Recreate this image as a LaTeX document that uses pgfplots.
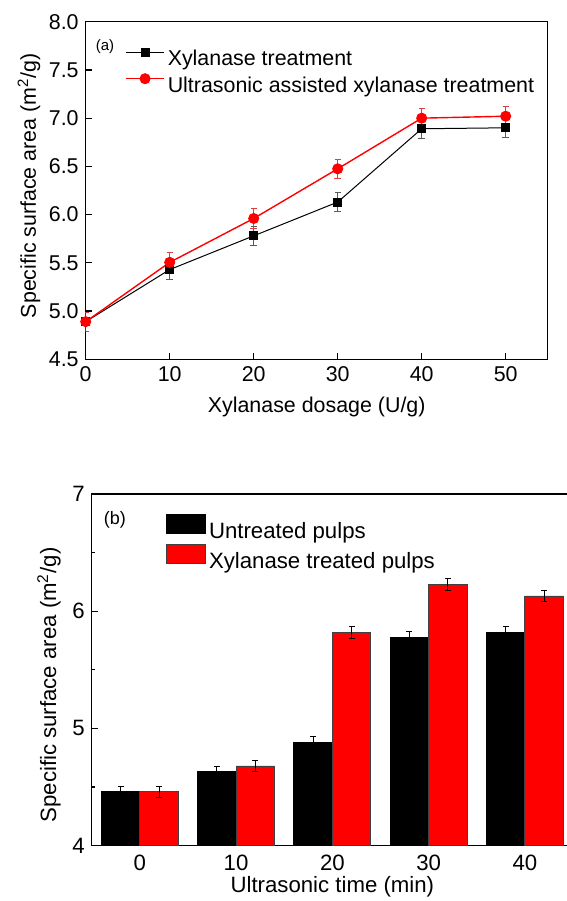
\documentclass[border=0pt]{standalone}
\usepackage{fontspec}
\setmainfont{Liberation Sans}
\usepackage{pgfplots}
\pgfplotsset{compat=1.18}

\definecolor{errgray}{RGB}{90,90,90}
\definecolor{errred}{RGB}{225,60,60}

\begin{document}
\begin{tikzpicture}
\path[use as bounding box] (0pt,0pt) rectangle (283.5pt,450.5pt);

% (a) line chart
\begin{axis}[
  at={(42.85pt,270.85pt)}, anchor=south west, scale only axis,
  width=231pt, height=168.8pt,
  xmin=0, xmax=55, ymin=4.5, ymax=8.0,
  xtick={0,10,20,30,40,50},
  ytick={4.5,5.0,5.5,6.0,6.5,7.0,7.5,8.0},
  xtick pos=bottom, ytick pos=left, tick align=inside,
  major tick length=3pt,
  axis line style={line width=0.7pt},
  major tick style={line width=0.6pt, black},
  /pgf/number format/assume math mode=true,
  yticklabel style={/pgf/number format/fixed, /pgf/number format/fixed zerofill, /pgf/number format/precision=1},
  tick label style={font=\fontsize{10.7}{12}\selectfont},
  label style={font=\fontsize{10.7}{12}\selectfont},
  xlabel={Xylanase dosage (U/g)},
  ylabel={Specific surface area (m\textsuperscript{2}/g)},
  xlabel style={at={(axis description cs:0.5,-0.14)}, anchor=center},
  ylabel style={at={(axis description cs:-0.1227,0.5145)}, anchor=center},
  legend style={at={(axis description cs:0.085,0.925)}, anchor=north west,
    draw=none, fill=none, inner sep=0pt, row sep=1pt,
    font=\fontsize{10.7}{12}\selectfont, nodes={inner sep=1.5pt}},
  legend cell align=left,
  legend image code/.code={\draw[mark repeat=2,mark phase=2,#1] plot coordinates {(0pt,3.8pt) (9.5pt,3.8pt) (19pt,3.8pt)};},
]
\addplot[black, line width=0.5pt, mark=square*, mark size=2pt, mark options={solid, fill=black},
  error bars/.cd, y dir=both, y explicit,
  error bar style={errgray, line width=0.4pt},
  error mark options={rotate=90, mark size=1.6pt, errgray, line width=0.4pt}]
  coordinates {
  (0,4.89) +- (0,0.1)
  (10,5.43) +- (0,0.1)
  (20,5.78) +- (0,0.1)
  (30,6.13) +- (0,0.1)
  (40,6.89) +- (0,0.1)
  (50,6.90) +- (0,0.1)
  };
\addlegendentry{Xylanase treatment}
\addplot[red, line width=0.7pt, mark=*, mark size=2.4pt, mark options={solid, fill=red},
  error bars/.cd, y dir=both, y explicit,
  error bar style={errred, line width=0.4pt},
  error mark options={rotate=90, mark size=1.6pt, errred, line width=0.4pt}]
  coordinates {
  (0,4.89) +- (0,0.1)
  (10,5.505) +- (0,0.1)
  (20,5.96) +- (0,0.1)
  (30,6.475) +- (0,0.1)
  (40,7.00) +- (0,0.1)
  (50,7.02) +- (0,0.1)
  };
\addlegendentry{Ultrasonic assisted xylanase treatment}
\node[font=\fontsize{7.5}{9}\selectfont] at (axis description cs:0.0418,0.926) {(a)};
\end{axis}

% (b) bar chart
\begin{axis}[
  at={(45.85pt,27.65pt)}, anchor=south west, scale only axis,
  width=240.65pt, height=175.85pt,
  ybar=0pt, bar width=19.25pt,
  xmin=-0.5, xmax=4.5, ymin=4, ymax=7,
  xtick={0,1,2,3,4}, xticklabels={0,10,20,30,40},
  ytick={4,5,6,7}, minor ytick={4.5,5.5,6.5},
  xtick pos=bottom, ytick pos=left, tick align=inside,
  major tick length=3pt, minor tick length=1.7pt,
  xtick style={draw=none},
  axis line style={line width=0.7pt},
  major tick style={line width=0.6pt, black},
  minor tick style={line width=0.6pt, black},
  /pgf/number format/assume math mode=true,
  tick label style={font=\fontsize{11.1}{13}\selectfont},
  xticklabel style={yshift=-1pt},
  label style={font=\fontsize{11.1}{13}\selectfont},
  xlabel={Ultrasonic time (min)},
  ylabel={Specific surface area (m\textsuperscript{2}/g)},
  xlabel style={at={(axis description cs:0.5,-0.117)}, anchor=center},
  ylabel style={at={(axis description cs:-0.0887,0.457)}, anchor=center},
  legend style={at={(axis description cs:0.154,0.945)}, anchor=north west,
    draw=none, fill=none, inner sep=0pt,
    font=\fontsize{11.1}{13}\selectfont, nodes={inner sep=1.5pt}},
  legend cell align=left,
  legend image code/.code={\draw[#1] (0pt,-0.75pt) rectangle (19.5pt,8.75pt);},
]
\addplot[fill=black, draw=black, line width=0.4pt,
  error bars/.cd, y dir=both, y explicit,
  error bar style={black, line width=0.4pt},
  error mark options={rotate=90, mark size=1.5pt, black, line width=0.4pt}]
  coordinates {
  (0,4.46) +- (0,0.05)
  (1,4.63) +- (0,0.05)
  (2,4.88) +- (0,0.05)
  (3,5.78) +- (0,0.05)
  (4,5.82) +- (0,0.05)
  };
\addlegendentry{Untreated pulps}
\addplot[fill=red, draw=black!75, line width=0.4pt,
  error bars/.cd, y dir=both, y explicit,
  error bar style={black, line width=0.4pt},
  error mark options={rotate=90, mark size=1.5pt, black, line width=0.4pt}]
  coordinates {
  (0,4.46) +- (0,0.05)
  (1,4.68) +- (0,0.05)
  (2,5.82) +- (0,0.05)
  (3,6.23) +- (0,0.05)
  (4,6.13) +- (0,0.05)
  };
\addlegendentry{Xylanase treated pulps}
\node[font=\fontsize{9}{11}\selectfont] at (axis description cs:0.0484,0.926) {(b)};
\end{axis}
\end{tikzpicture}
\end{document}
